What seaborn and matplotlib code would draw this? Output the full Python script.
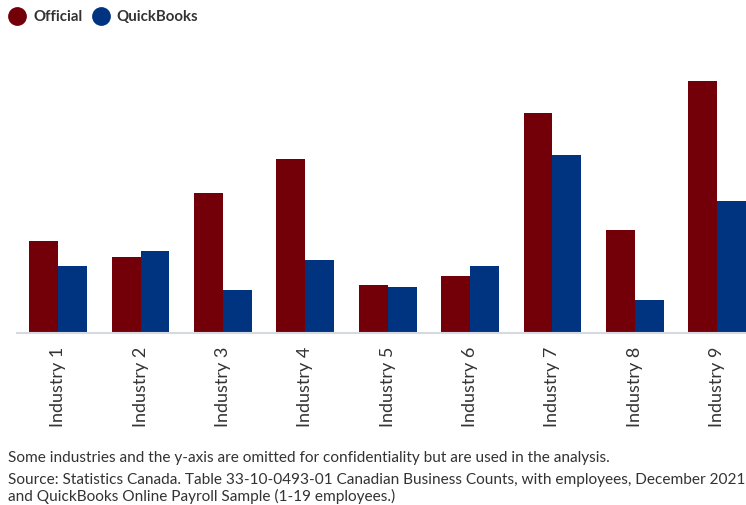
import matplotlib
matplotlib.use("Agg")
import matplotlib.pyplot as plt
import seaborn as sns
import pandas as pd
from matplotlib.lines import Line2D

industries = [f"Industry {i}" for i in range(1, 10)]
official = [92, 76, 140, 174, 48, 57, 220, 103, 252]
quickbooks = [67, 82, 43, 73, 46, 67, 178, 33, 132]
series = ["Official", "QuickBooks"]
colors = ["#730009", "#003380"]

df = pd.DataFrame({
    "industry": industries * 2,
    "value": official + quickbooks,
    "series": [series[0]] * 9 + [series[1]] * 9,
})

sns.set_theme(style="white")
plt.rcParams["font.family"] = ["Lato", "DejaVu Sans"]

fig = plt.figure(figsize=(7.46, 5.05), dpi=100)
ax = fig.add_axes([17 / 746, (505 - 333) / 505, (746 - 17) / 746, 288 / 505])

sns.barplot(data=df, x="industry", y="value", hue="series", palette=colors,
            width=0.7, saturation=1, ax=ax, legend=False)
for p in ax.patches:
    p.set_linewidth(0)

ax.set_xlim(-0.5, 8.35)
ax.set_ylim(0, 288)
ax.set_xlabel("")
ax.set_ylabel("")
ax.set_yticks([])
for s in ["top", "right", "left"]:
    ax.spines[s].set_visible(False)
ax.spines["bottom"].set_color("#d5dae2")
ax.spines["bottom"].set_linewidth(1.5)
ax.tick_params(axis="x", length=0, pad=10, labelsize=13, labelcolor="#333333")
plt.setp(ax.get_xticklabels(), rotation=90, va="top", ha="center")

handles = [Line2D([0], [0], marker="o", linestyle="", markersize=12.5,
                  markerfacecolor=c, markeredgecolor=c) for c in colors]
fig.legend(handles, series, loc="upper left", bbox_to_anchor=(-0.005, 1.003), ncol=2,
           frameon=False, handletextpad=0.45, columnspacing=0.65, handlelength=1.2,
           borderpad=0.3, prop={"size": 10.8, "weight": "bold"}, labelcolor="#333333")

fig.text(8 / 746, 1 - 458 / 505, "Some industries and the y-axis are omitted for confidentiality but are used in the analysis.",
         fontsize=11.1, color="#333333", va="center")
fig.text(8 / 746, 1 - 480 / 505, "Source: Statistics Canada. Table 33-10-0493-01 Canadian Business Counts, with employees, December 2021",
         fontsize=11.1, color="#333333", va="center")
fig.text(8 / 746, 1 - 496 / 505, "and QuickBooks Online Payroll Sample (1-19 employees.)",
         fontsize=11.1, color="#333333", va="center")

fig.savefig("out.png", dpi=100)
